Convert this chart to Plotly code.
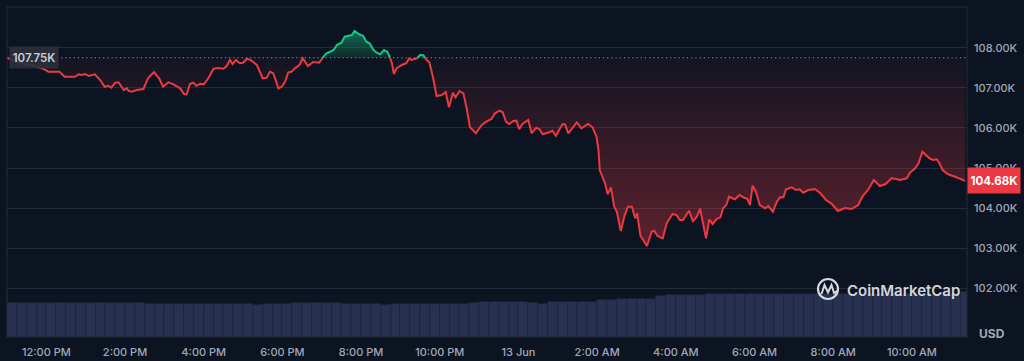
import numpy as np
import pandas as pd
import plotly.graph_objects as go

START = pd.Timestamp("2025-06-12 11:00")
OPEN_PRICE = 107750
LAST_PRICE = 104680

# minutes after 11:00 AM, 12 Jun
price_minutes = [0, 12, 27, 43, 56, 63, 80, 88, 104, 109, 114, 119, 125, 134, 142, 149, 154, 159, 165, 170,
                 178, 183, 185, 190, 198, 208, 215, 224, 232, 238, 246, 254, 264, 270, 274, 279, 284, 289, 295, 300,
                 307, 315, 322, 330, 335, 340, 344, 349, 355, 360, 366, 373, 381, 386, 390, 396, 401, 406, 414, 419,
                 424, 429, 434, 439, 446, 451, 459, 467, 476, 482, 487, 492, 498, 503, 510, 515, 520, 526, 530, 536,
                 543, 548, 553, 559, 564, 569, 575, 580, 584, 587, 590, 594, 602, 609, 613, 617, 625, 630, 635, 639,
                 644, 650, 655, 663, 669, 674, 680, 684, 690, 696, 701, 706, 715, 724, 731, 739, 744, 751, 756, 761,
                 766, 772, 777, 781, 786, 795, 800, 807, 812, 817, 828, 832, 837, 847, 851, 856, 869, 876, 886, 893,
                 899, 902, 904, 912, 916, 921, 926, 930, 936, 942, 947, 953, 958, 961, 966, 970, 976, 983, 987, 992,
                 1000, 1006, 1015, 1021, 1026, 1031, 1040, 1046, 1052, 1057, 1062, 1066, 1071, 1076, 1082, 1088, 1092, 1097, 1101, 1110,
                 1117, 1124, 1129, 1133, 1137, 1142, 1148, 1156, 1161, 1168, 1174, 1179, 1184, 1188, 1197, 1203, 1209, 1214, 1222, 1232,
                 1240, 1249, 1258, 1267, 1278, 1288, 1298, 1305, 1313, 1322, 1331, 1340, 1349, 1357, 1362, 1372, 1377, 1385, 1390, 1396,
                 1402, 1407, 1412, 1418, 1422, 1427, 1433, 1438, 1446, 1453, 1461]
price_usd = [107750, 107668, 107593, 107544, 107469, 107401, 107401, 107277, 107277, 107337, 107319, 107344, 107294, 107337, 107194, 107027, 107052, 107002, 107127, 107137,
             106945, 106987, 106928, 106903, 106945, 106970, 107237, 107394, 107237, 107027, 107137, 107087, 106987, 106845, 106838, 107095, 107127, 107052, 107102, 107087,
             107237, 107476, 107494, 107476, 107544, 107693, 107593, 107693, 107611, 107626, 107726, 107676, 107569, 107401, 107237, 107252, 107401, 107362, 106987, 107027,
             107152, 107387, 107401, 107486, 107569, 107736, 107544, 107643, 107626, 107761, 107860, 107893, 107943, 108067, 108125, 108274, 108292, 108317, 108416, 108342,
             108299, 108150, 108110, 107943, 107875, 107835, 107943, 107900, 107751, 107611, 107344, 107486, 107569, 107611, 107726, 107693, 107736, 107818, 107810, 107711,
             107636, 107237, 106795, 106820, 106895, 106514, 106878, 106763, 106920, 106863, 106489, 106015, 105865, 106072, 106155, 106222, 106364, 106429, 106389, 106155,
             106097, 106172, 106180, 105965, 106097, 106197, 105865, 106005, 105965, 105840, 105898, 105930, 105805, 106090, 106090, 105865, 106140, 105990, 106097, 106015,
             105780, 105449, 104950, 104618, 104344, 104519, 104035, 103910, 103429, 103828, 104035, 104035, 103746, 103870, 103312, 103204, 103055, 103411, 103436, 103304,
             103247, 103621, 103853, 103828, 103703, 103703, 103935, 103678, 103786, 103985, 103578, 103247, 103721, 103603, 103728, 103770, 103995, 104077, 104284, 104219,
             104327, 104259, 104234, 104077, 104559, 104409, 104077, 103995, 104052, 103910, 104160, 104269, 104269, 104469, 104519, 104451, 104469, 104384, 104451, 104476,
             104377, 104202, 104102, 103928, 104002, 103977, 104077, 104302, 104451, 104701, 104551, 104601, 104751, 104726, 104701, 104743, 104883, 104992, 105117, 105406,
             105324, 105242, 105200, 105217, 105117, 104950, 104868, 104825, 104783, 104743, 104680]

# 15-minute volume bars (billions USD, 24h rolling), starting 11:00 AM 12 Jun
volume_b = [41.7, 41.7, 41.7, 40.8, 40.8, 41.7, 41.7, 41.7, 41.5, 41.5,
            41.5, 41.5, 41.5, 41.7, 40.5, 40.5, 40.5, 40.5, 40.5, 40.5,
            40.5, 40.5, 40.5, 40.6, 40.6, 38.8, 40.5, 40.5, 40.5, 40.8,
            40.8, 40.8, 40.8, 40.8, 40.5, 40.5, 40.5, 40.5, 38.8, 40.5,
            40.5, 40.0, 40.0, 40.0, 40.0, 40.0, 40.0, 41.7, 42.9, 42.9,
            42.4, 42.4, 42.4, 41.7, 40.5, 42.1, 42.1, 42.1, 42.1, 42.1,
            44.5, 44.5, 45.5, 46.5, 46.5, 46.5, 50.0, 51.4, 51.4, 51.4,
            51.4, 51.6, 52.6, 52.6, 52.6, 51.8, 51.8, 51.8, 51.8, 51.8,
            51.8, 51.8, 52.6, 52.6, 52.6, 52.6, 52.6, 52.6, 52.6, 52.6,
            52.6, 52.6, 52.6, 52.6, 52.6, 52.6, 52.6, 54.5]

x_tick_times = ["2025-06-12 12:00", "2025-06-12 14:00", "2025-06-12 16:00", "2025-06-12 18:00",
                "2025-06-12 20:00", "2025-06-12 22:00", "2025-06-13 00:00", "2025-06-13 02:00",
                "2025-06-13 04:00", "2025-06-13 06:00", "2025-06-13 08:00", "2025-06-13 10:00"]
x_tick_labels = ["12:00 PM", "2:00 PM", "4:00 PM", "6:00 PM", "8:00 PM", "10:00 PM", "13 Jun",
                 "2:00 AM", "4:00 AM", "6:00 AM", "8:00 AM", "10:00 AM"]
y_tick_values = [102000, 103000, 104000, 105000, 106000, 107000, 108000]
y_tick_labels = ["102.00K", "103.00K", "104.00K", "105.00K", "106.00K", "107.00K", "108.00K"]

BG = "#0d1421"
RED = "#ea3943"
GREEN = "#16c784"
TXT = "#a1a7bb"
FONT = "Inter, sans-serif"

# ---- insert baseline crossings so fills/colours split exactly at the open price
t = list(map(float, price_minutes))
p = list(map(float, price_usd))
ta, pa = [t[0]], [p[0]]
for i in range(len(t) - 1):
    a, b = p[i] - OPEN_PRICE, p[i + 1] - OPEN_PRICE
    if a * b < 0:
        tc = t[i] + (OPEN_PRICE - p[i]) / (p[i + 1] - p[i]) * (t[i + 1] - t[i])
        ta.append(tc)
        pa.append(float(OPEN_PRICE))
    ta.append(t[i + 1])
    pa.append(p[i + 1])
ta = np.array(ta)
pa = np.array(pa)
times = START + pd.to_timedelta(ta, unit="m")

below = np.minimum(pa, OPEN_PRICE)
above = np.maximum(pa, OPEN_PRICE)
red_line = np.where(pa <= OPEN_PRICE, pa, np.nan)
green_line = np.where(pa >= OPEN_PRICE, pa, np.nan)
base = np.full(len(pa), float(OPEN_PRICE))

vol_times = START + pd.to_timedelta(np.arange(len(volume_b)) * 15 + 7.5, unit="m")

fig = go.Figure()
fig.add_trace(go.Bar(x=vol_times, y=volume_b, yaxis="y2", width=15 * 60 * 1000,
                     marker=dict(color="#28314f", line=dict(color="#1e2642", width=0.6)),
                     hoverinfo="skip", showlegend=False))
fig.add_trace(go.Scatter(x=times, y=base, mode="lines", line=dict(width=0), hoverinfo="skip", showlegend=False))
fig.add_trace(go.Scatter(x=times, y=below, mode="lines", line=dict(width=0), fill="tonexty",
                         fillgradient=dict(type="vertical", start=103050, stop=OPEN_PRICE,
                                           colorscale=[[0, "rgba(234,57,67,0.36)"], [1, "rgba(234,57,67,0.03)"]]),
                         hoverinfo="skip", showlegend=False))
fig.add_trace(go.Scatter(x=times, y=base, mode="lines", line=dict(width=0), hoverinfo="skip", showlegend=False))
fig.add_trace(go.Scatter(x=times, y=above, mode="lines", line=dict(width=0), fill="tonexty",
                         fillgradient=dict(type="vertical", start=OPEN_PRICE, stop=108420,
                                           colorscale=[[0, "rgba(22,199,132,0.12)"], [1, "rgba(22,199,132,0.5)"]]),
                         hoverinfo="skip", showlegend=False))
fig.add_trace(go.Scatter(x=times, y=red_line, mode="lines", line=dict(color=RED, width=2),
                         connectgaps=False, showlegend=False))
fig.add_trace(go.Scatter(x=times, y=green_line, mode="lines", line=dict(color=GREEN, width=2),
                         connectgaps=False, showlegend=False))

x0 = START
x1 = START + pd.Timedelta(minutes=1464)

fig.update_layout(
    width=1024, height=361,
    margin=dict(l=7, r=57, t=7, b=24, autoexpand=False),
    paper_bgcolor=BG, plot_bgcolor=BG,
    font=dict(family=FONT, color=TXT, size=11),
    showlegend=False,
    bargap=0,
    xaxis=dict(type="date", range=[x0, x1], showgrid=False, zeroline=False, showline=False,
               tickmode="array", tickvals=x_tick_times, ticktext=x_tick_labels, ticks="",
               automargin=False, ticklabelstandoff=7, tickfont=dict(size=11, color=TXT, weight=500)),
    yaxis=dict(side="right", range=[100786, 109015], tickmode="array", tickvals=y_tick_values,
               ticktext=y_tick_labels, showgrid=True, gridcolor="#232a38", gridwidth=1,
               zeroline=False, showline=False, ticks="", ticklabelstandoff=6, automargin=False,
               tickfont=dict(size=11, color=TXT, weight=500)),
    yaxis2=dict(overlaying="y", range=[0, 400], visible=False),
)

# plot frame
fig.add_shape(type="rect", xref="paper", yref="paper", x0=0, x1=1, y0=0, y1=1,
              line=dict(color="#262d3b", width=1), layer="above")
# dotted open-price line
fig.add_shape(type="line", xref="paper", yref="y", x0=0.052, x1=1, y0=OPEN_PRICE, y1=OPEN_PRICE,
              line=dict(color="#8a92a3", width=1.2, dash="1.2px,3px"), layer="above")

# open price label
fig.add_annotation(xref="paper", yref="y", x=0.002, y=OPEN_PRICE, xanchor="left", yanchor="middle",
                   text="107.75K", showarrow=False, bgcolor="rgba(43,48,60,0.92)", width=46, height=19,
                   font=dict(size=11.5, color="#c8cdd8", weight=600), borderpad=1)
# last price label
fig.add_annotation(xref="paper", yref="y", x=1.0, y=LAST_PRICE, xanchor="left", yanchor="middle",
                   text="104.68K", showarrow=False, bgcolor=RED, width=48, height=21,
                   font=dict(size=11.5, color="#ffffff", weight=700), borderpad=2)
# currency
fig.add_annotation(xref="paper", yref="paper", x=1.026, y=0.012, xanchor="center", yanchor="middle",
                   text="USD", showarrow=False, font=dict(size=12, color=TXT, weight=700))


# watermark
def px(xp, yp):
    return (xp - 7) / 960, (337 - yp) / 330


cx0, cy0 = px(818, 279)
cx1, cy1 = px(838, 299)
fig.add_shape(type="circle", xref="paper", yref="paper", x0=cx0, y0=cy1, x1=cx1, y1=cy0,
              line=dict(color="rgba(235,238,243,0.9)", width=2.2), layer="above")
pts = [px(821.5, 294), px(824.5, 285), px(828, 292.5), px(831.5, 285), px(834, 293), px(837, 291)]
path = "M " + " L ".join(f"{a:.5f},{b:.5f}" for a, b in pts)
fig.add_shape(type="path", xref="paper", yref="paper", path=path,
              line=dict(color="rgba(235,238,243,0.9)", width=2), layer="above")
wx, wy = px(845, 290)
fig.add_annotation(xref="paper", yref="paper", x=wx, y=wy, xanchor="left", yanchor="middle",
                   text="CoinMarketCap", showarrow=False,
                   font=dict(size=15, color="rgba(235,238,243,0.9)", weight=600))

fig.write_html("out.html", config={"displayModeBar": False},
               post_script="document.body.style.margin='0';document.body.style.overflow='hidden';")
